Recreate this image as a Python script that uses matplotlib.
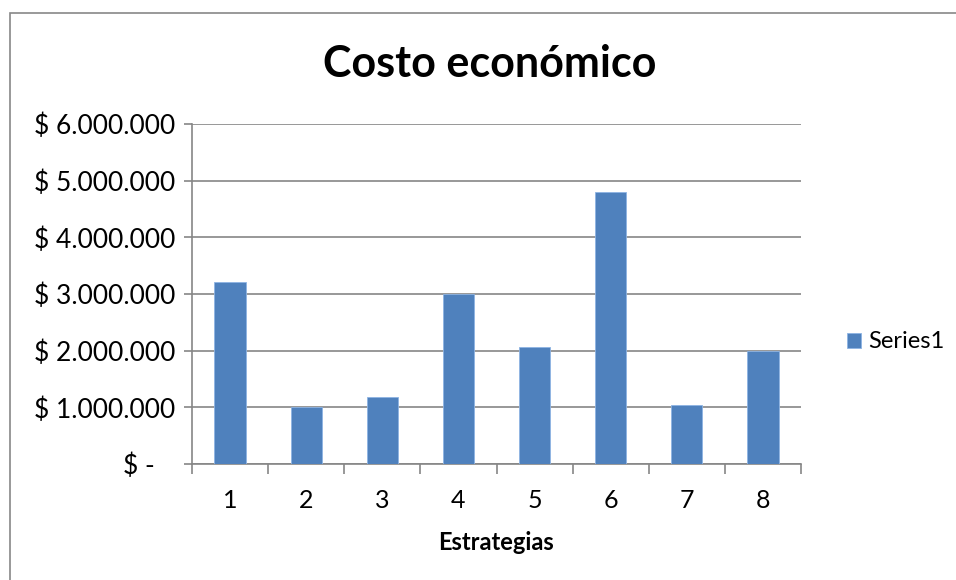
import matplotlib
matplotlib.use("Agg")
import matplotlib.pyplot as plt
from matplotlib.patches import Rectangle
from matplotlib.ticker import FuncFormatter, FixedLocator

estrategias = ['1', '2', '3', '4', '5', '6', '7', '8']
costo = [3210000, 1000000, 1180000, 3000000, 2070000, 4800000, 1050000, 2000000]

plt.rcParams['font.family'] = ['Lato', 'DejaVu Sans']

fig = plt.figure(figsize=(9.56, 5.8), dpi=100)
ax = fig.add_axes([192/956, 1 - 464/580, (801 - 192)/956, (464 - 124)/580])

# chart area border (runs off the right and bottom edges)
fig.patches.append(Rectangle((9.5/956, -0.1), 1.2, 1 - 12.5/580 + 0.1,
                             transform=fig.transFigure, fill=False,
                             edgecolor='#888888', linewidth=1.2))

x = list(range(len(estrategias)))
ax.bar(x, costo, width=0.41, color='#4F81BD', edgecolor='#8EB4E3',
       linewidth=0.6, label='Series1', zorder=3)

ax.set_xlim(-0.5, len(estrategias) - 0.5)
ax.set_ylim(0, 6000000)
ax.set_yticks(range(0, 6000001, 1000000))

def money(v, pos):
    if v == 0:
        return '$ -   '
    return '$ ' + f'{int(v):,}'.replace(',', '.')

ax.yaxis.set_major_formatter(FuncFormatter(money))
ax.grid(axis='y', color='#868686', linewidth=1.2, zorder=0)

ax.set_xticks(x)
ax.set_xticklabels(estrategias)
ax.tick_params(axis='x', which='major', length=0, pad=18, labelsize=18)
ax.xaxis.set_minor_locator(FixedLocator([i - 0.5 for i in range(len(estrategias) + 1)]))
ax.tick_params(axis='x', which='minor', length=7, width=1.2, color='#868686')
ax.tick_params(axis='y', length=6, width=1.2, color='#868686', labelsize=19, pad=6)

for s in ['top', 'right']:
    ax.spines[s].set_visible(False)
for s in ['left', 'bottom']:
    ax.spines[s].set_color('#868686')
    ax.spines[s].set_linewidth(1.2)

ax.set_xlabel('Estrategias', fontsize=17, fontweight='bold', labelpad=14)
fig.text(490/956, 1 - 64/580, 'Costo económico', ha='center', va='center',
         fontsize=31, fontweight='bold')

ax.legend(loc='center left', bbox_to_anchor=(826/956, 1 - 342/580),
          bbox_transform=fig.transFigure, frameon=False, fontsize=17,
          handlelength=0.6, handleheight=0.6, handletextpad=0.3)

fig.savefig('out.png', dpi=100)
